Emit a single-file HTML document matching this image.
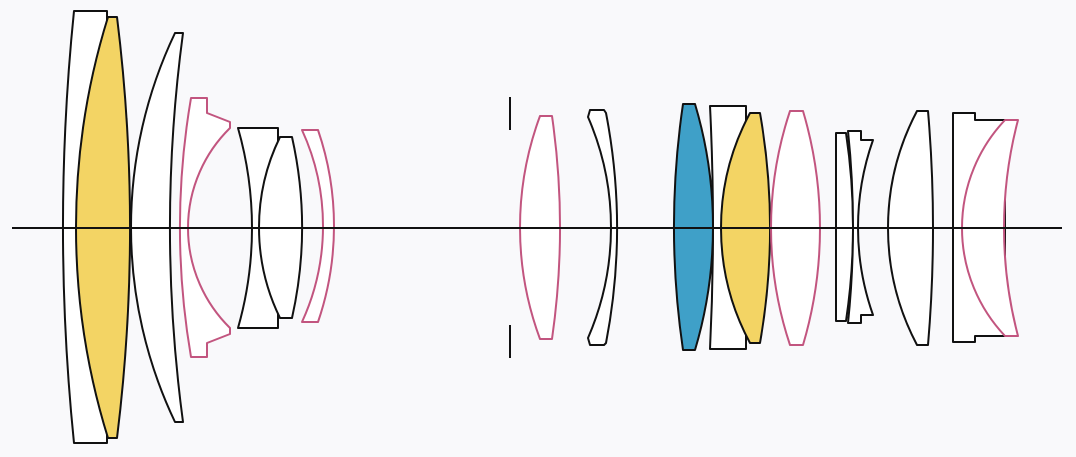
<!DOCTYPE html>
<html><head><meta charset="utf-8"><style>
html,body{margin:0;padding:0;background:#f9f9fb;}
svg{display:block}
</style></head><body>
<svg id="s" width="1076" height="457" viewBox="0 0 1076 457"></svg>
<script>
var C=228;
function arc(p0,p1,m){
  var ax=p0[0],ay=p0[1],bx=m[0],by=m[1],cx=p1[0],cy=p1[1];
  var d=2*(ax*(by-cy)+bx*(cy-ay)+cx*(ay-by));
  if(Math.abs(d)<1e-6) return "L"+cx+","+cy;
  var ux=((ax*ax+ay*ay)*(by-cy)+(bx*bx+by*by)*(cy-ay)+(cx*cx+cy*cy)*(ay-by))/d;
  var uy=((ax*ax+ay*ay)*(cx-bx)+(bx*bx+by*by)*(ax-cx)+(cx*cx+cy*cy)*(bx-ax))/d;
  var r=Math.hypot(ax-ux,ay-uy);
  var cr=(cx-ax)*(by-ay)-(cy-ay)*(bx-ax);
  var sw=cr<0?1:0;
  return "A"+r.toFixed(2)+","+r.toFixed(2)+" 0 0 "+sw+" "+cx+","+cy;
}
function path(cmds){
  var s="",cur;
  cmds.forEach(function(c){
    if(c[0]=="M"){s+="M"+c[1]+","+c[2];cur=[c[1],c[2]];}
    else if(c[0]=="L"){s+="L"+c[1]+","+c[2];cur=[c[1],c[2]];}
    else {var p1=[c[1],c[2]];s+=arc(cur,p1,[c[3],C]);cur=p1;}
  });
  return s+"Z";
}
var K="#111",P="#c2557f",Y="#f3d464",B="#3fa0c8",W="#fff";
var shapes=[
 [W,K,[["M",74,11],["L",107,11],["L",107,443],["L",74,443],["A",74,11,63]]],
 [Y,K,[["M",108,17],["L",117,17],["A",117,438,130],["L",108,438],["A",108,17,76]]],
 [W,K,[["M",175,33],["L",183,33],["A",183,422,170],["L",175,422],["A",175,33,131]]],
 [W,P,[["M",191,98],["L",207,98],["L",207,113],["L",230,122],["L",230,128],["A",230,328,188],["L",230,334],["L",207,343],["L",207,357],["L",191,357],["A",191,98,180]]],
 [W,K,[["M",238,128],["L",278,128],["L",278,328],["L",238,328],["A",238,128,252]]],
 [W,K,[["M",280,137],["L",292,137],["A",292,318,302],["L",280,318],["A",280,137,259]]],
 [W,P,[["M",302,130],["L",318,130],["A",318,322,334],["L",302,322],["A",302,130,323]]],
 [W,P,[["M",540,116],["L",552,116],["A",552,339,560],["L",540,339],["A",540,116,520]]],
 [W,K,[["M",590,110],["L",604,110],["L",606,113],["A",606,343,617],["L",604,345],["L",590,345],["L",588,338],["A",588,117,611]]],
 [W,K,[["M",710,106],["L",746,106],["L",746,349],["L",710,349],["A",710,106,713]]],
 [B,K,[["M",683,104],["L",695,104],["A",695,350,713],["L",683,350],["A",683,104,674]]],
 [Y,K,[["M",750,113],["L",760,113],["A",760,343,770],["L",750,343],["A",750,113,721]]],
 [W,P,[["M",790,111],["L",803,111],["A",803,345,820],["L",790,345],["A",790,111,771]]],
 [W,K,[["M",836,133],["L",846,133],["A",846,321,853],["L",836,321]]],
 [W,K,[["M",848,131],["L",861,131],["L",861,140],["L",873,140],["A",873,315,858],["L",861,315],["L",861,323],["L",848,323],["A",848,131,853]]],
 [W,K,[["M",917,111],["L",928,111],["A",928,345,933],["L",917,345],["A",917,111,888]]],
 [W,K,[["M",953,113],["L",975,113],["L",975,120],["L",1005,120],["L",1005,336],["L",975,336],["L",975,342],["L",953,342]]],
 [W,P,[["M",1005,120],["L",1018,120],["A",1018,336,1004],["L",1005,336],["A",1005,120,962]]]
];
var svg=document.getElementById("s"),h="";
shapes.forEach(function(s){h+='<path d="'+path(s[2])+'" fill="'+s[0]+'" stroke="'+s[1]+'" stroke-width="2" stroke-linejoin="round"/>';});
h+='<line x1="510" y1="97" x2="510" y2="130" stroke="#111" stroke-width="2"/>';
h+='<line x1="510" y1="325" x2="510" y2="358" stroke="#111" stroke-width="2"/>';
h+='<line x1="12" y1="228" x2="1062" y2="228" stroke="#111" stroke-width="2"/>';
svg.innerHTML=h;
</script>
</body></html>
